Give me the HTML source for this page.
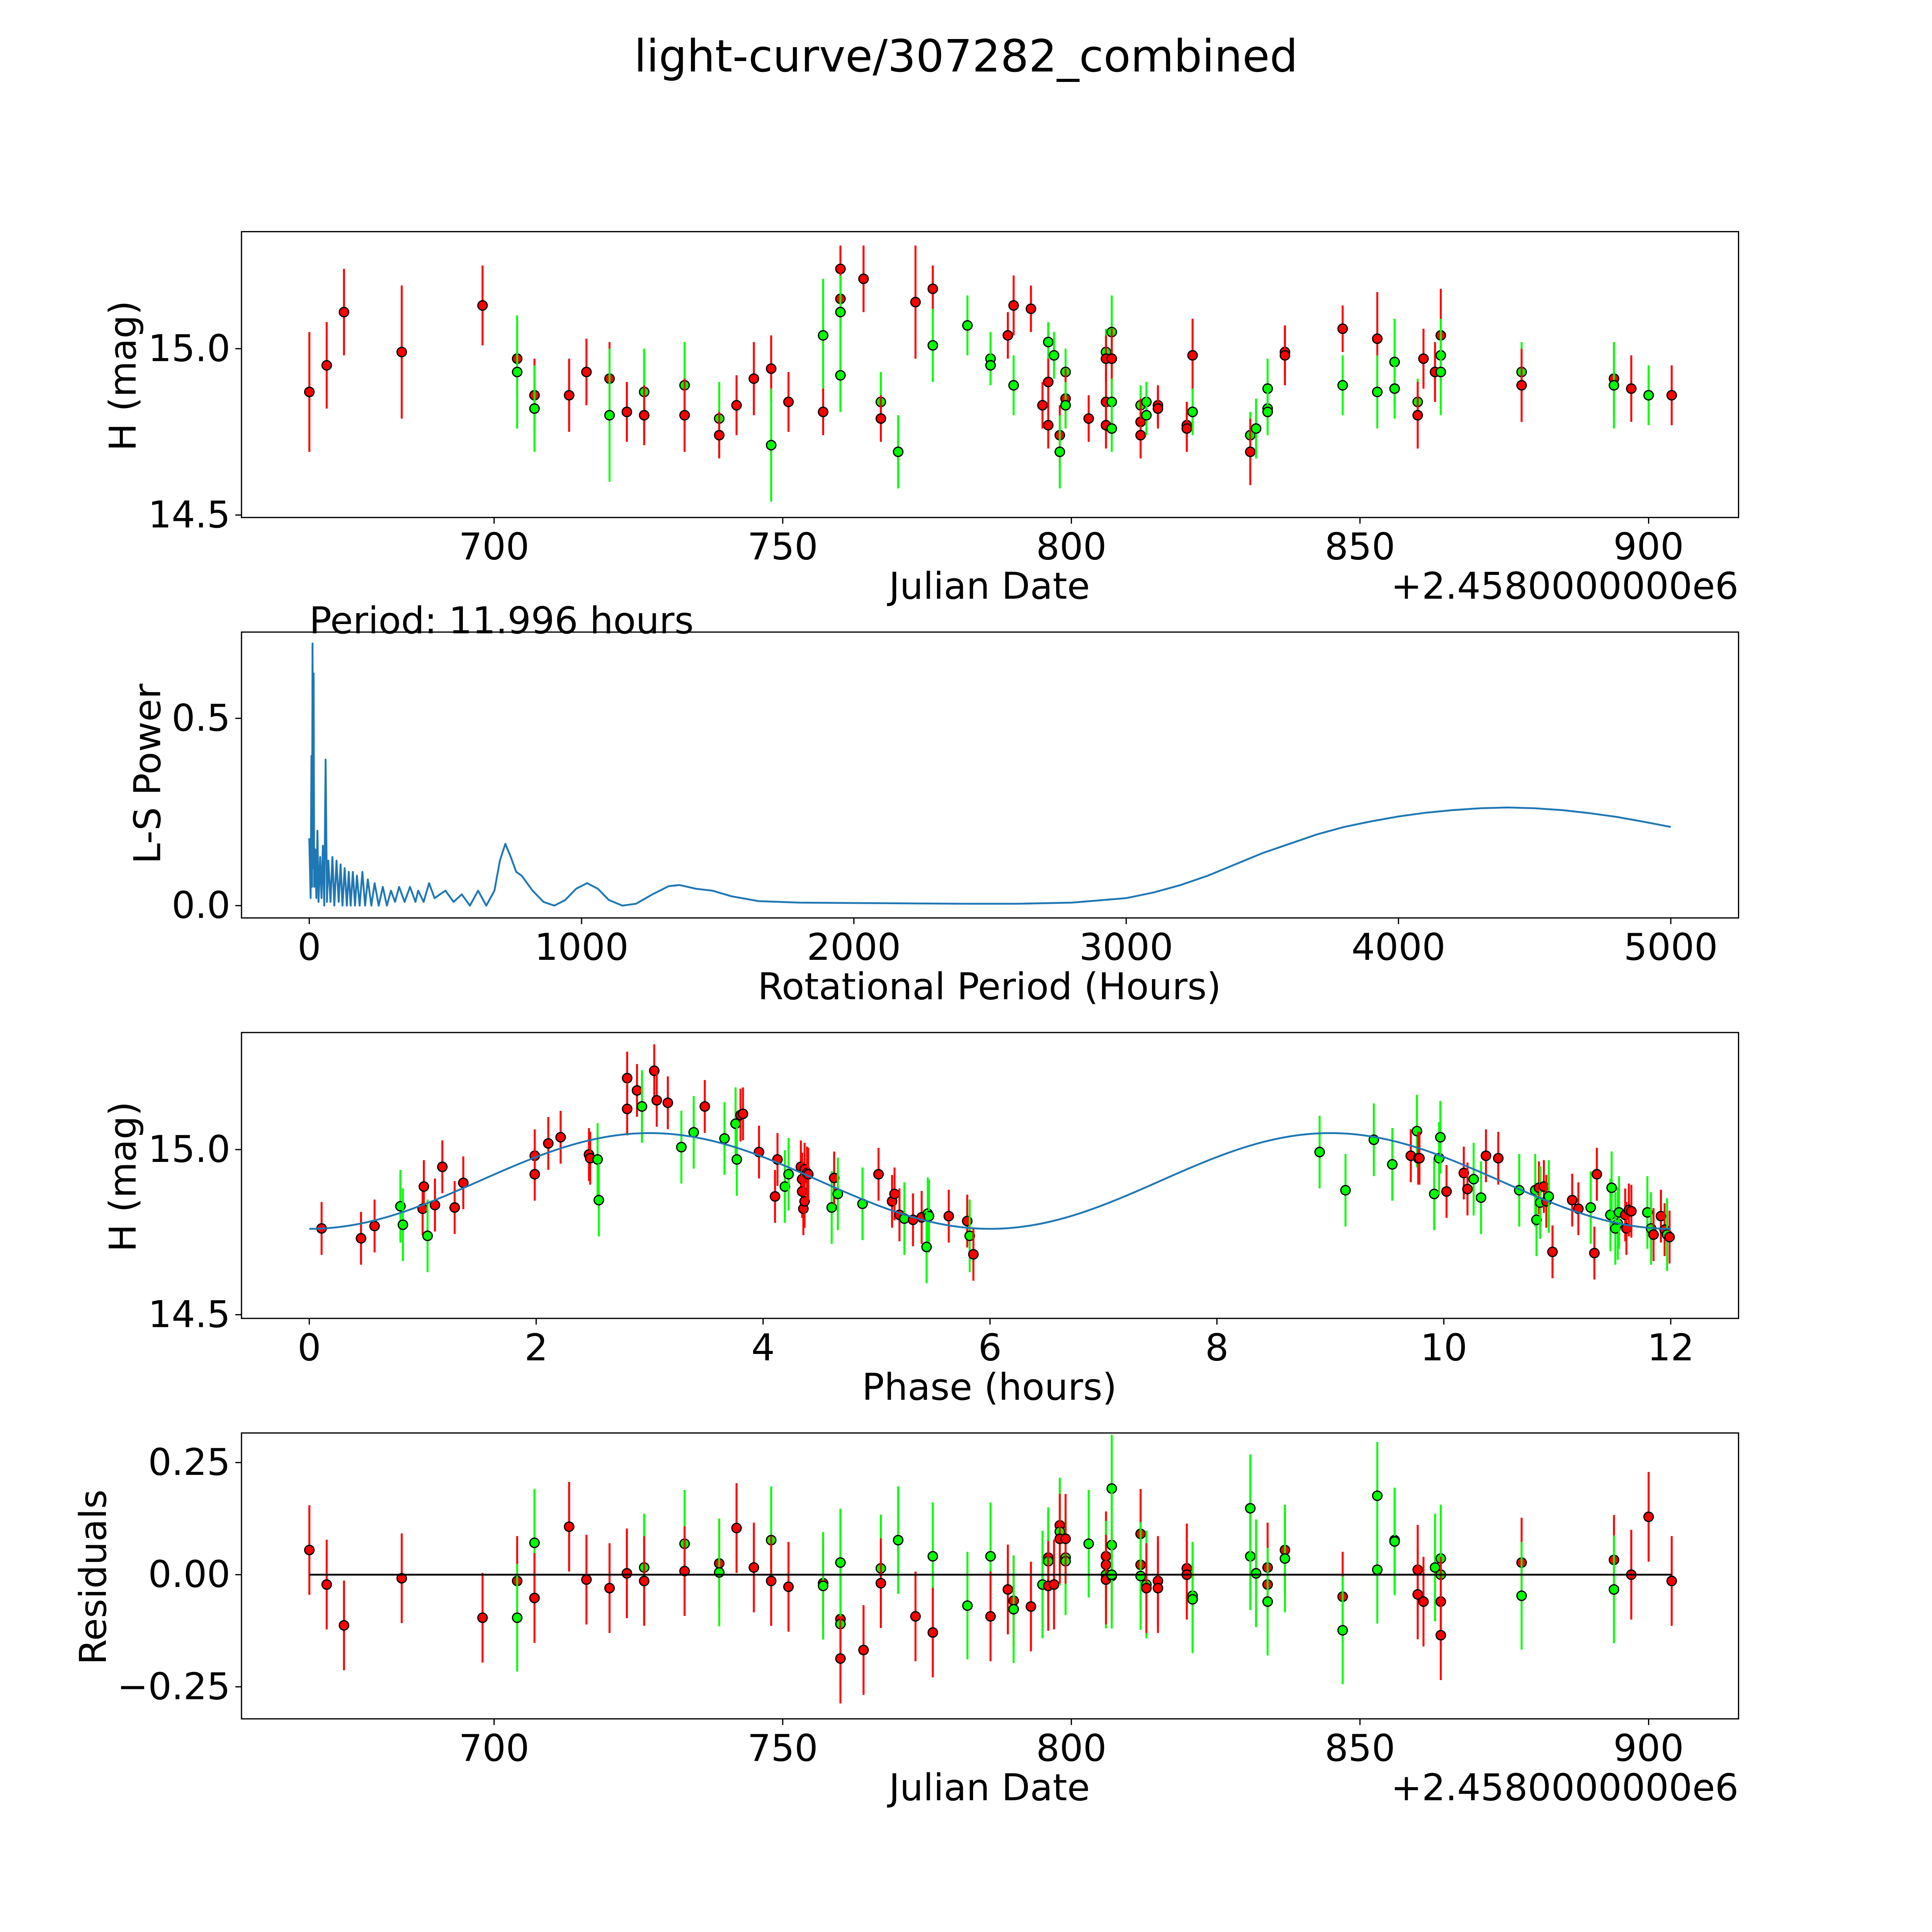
<!DOCTYPE html>
<html><head><meta charset="utf-8"><style>
html,body{margin:0;padding:0;background:#fff;width:100%;height:100%;overflow:hidden}
svg{display:block;width:100vw;height:100vh}
text{font-family:"DejaVu Sans","Liberation Sans",sans-serif;fill:#000}
</style></head><body>
<svg id="fig" xmlns="http://www.w3.org/2000/svg" viewBox="0 0 1568 1568" preserveAspectRatio="none"></svg>
<script>
// ---- Panel 1: light curve data ----
const lcDates=[668,671,674,684,698,704,704,707,707,713,716,720,720,723,726,726,733,733,739,739,742,745,748,748,751,757,757,760,760,760,760,764,767,767,770,773,776,776,782,786,786,789,790,790,793,795,796,796,796,797,798,798,799,799,799,803,806,806,806,806,807,807,807,807,812,812,812,813,813,815,815,820,820,821,821,831,831,832,834,834,834,837,837,847,847,853,853,856,856,860,860,861,863,864,864,864,878,878,894,894,897,900,904];
const lcMags=[14.87,14.95,15.11,14.99,15.13,14.97,14.93,14.86,14.82,14.86,14.93,14.91,14.80,14.81,14.87,14.80,14.89,14.80,14.79,14.74,14.83,14.91,14.94,14.71,14.84,15.04,14.81,15.24,15.15,15.11,14.92,15.21,14.84,14.79,14.69,15.14,15.18,15.01,15.07,14.97,14.95,15.04,15.13,14.89,15.12,14.83,15.02,14.90,14.77,14.98,14.74,14.69,14.93,14.85,14.83,14.79,14.99,14.97,14.84,14.77,15.05,14.97,14.84,14.76,14.83,14.78,14.74,14.84,14.80,14.83,14.82,14.77,14.76,14.98,14.81,14.74,14.69,14.76,14.88,14.82,14.81,14.99,14.98,15.06,14.89,15.03,14.87,14.96,14.88,14.84,14.80,14.97,14.93,15.04,14.98,14.93,14.93,14.89,14.91,14.89,14.88,14.86,14.86];
const lcBands="rrrrrrgrgrrrgrgrgrgrrrrgrgrrrggrgrgrrggggrrgrrgrrgrggrgrgrrrgrgggrrggrrrrrggrggggrrrgrggggrrrrgggrrgrgrrrr";
const lcErrs=[0.18,0.13,0.13,0.2,0.12,0.11,0.17,0.11,0.13,0.11,0.1,0.11,0.2,0.09,0.13,0.09,0.13,0.11,0.11,0.07,0.09,0.11,0.1,0.17,0.09,0.17,0.07,0.07,0.09,0.11,0.11,0.1,0.09,0.07,0.11,0.17,0.07,0.11,0.09,0.08,0.06,0.07,0.09,0.09,0.07,0.07,0.06,0.07,0.07,0.07,0.09,0.11,0.07,0.09,0.07,0.07,0.07,0.07,0.09,0.07,0.11,0.09,0.07,0.07,0.06,0.07,0.07,0.06,0.06,0.06,0.06,0.07,0.07,0.11,0.07,0.07,0.1,0.09,0.09,0.07,0.07,0.07,0.09,0.07,0.09,0.14,0.11,0.13,0.09,0.07,0.1,0.09,0.09,0.14,0.11,0.13,0.09,0.11,0.11,0.13,0.1,0.09,0.09];
// ---- Panel 2: periodogram ----
const lsPeriods=[0,5,8,10,12,14,16,18,22,26,30,34,40,45,50,55,60,65,70,78,85,92,100,108,115,122,130,138,145,152,160,168,175,185,195,205,215,228,240,255,270,285,300,315,330,350,370,390,400,420,440,460,500,530,560,590,620,650,680,700,720,740,760,780,820,860,900,940,980,1020,1060,1100,1150,1200,1260,1320,1360,1420,1480,1550,1650,1800,2000,2400,2600,2800,3000,3100,3200,3300,3400,3500,3600,3700,3800,3900,4000,4100,4200,4300,4400,4500,4600,4700,4800,4900,5000];
const lsPower=[0.18,0.02,0.4,0.05,0.70,0.1,0.62,0.05,0.15,0.02,0.2,0.01,0.13,0.02,0.16,0.0,0.39,0.01,0.12,0.01,0.13,0.0,0.12,0.01,0.11,0.0,0.10,0.0,0.09,0.0,0.09,0.0,0.08,0.0,0.09,0.0,0.07,0.0,0.06,0.0,0.05,0.0,0.04,0.01,0.05,0.01,0.05,0.01,0.04,0.01,0.06,0.02,0.04,0.01,0.03,0.0,0.04,0.0,0.04,0.12,0.165,0.13,0.09,0.08,0.04,0.01,0.0,0.015,0.045,0.06,0.045,0.015,0.0,0.005,0.03,0.052,0.055,0.045,0.04,0.025,0.012,0.008,0.007,0.005,0.005,0.008,0.02,0.035,0.055,0.08,0.11,0.14,0.165,0.19,0.21,0.225,0.238,0.248,0.255,0.26,0.262,0.26,0.255,0.247,0.237,0.224,0.21];
// ---- Panel 3: phased data ----
const phX=[261,293,304,325,327,343,344,347,353,359,369,376,434,434,445,455,478,479,485,486,509,509,517,521,531,533,542,553,563,572,588,597,598,601,603,616,631,629,637,640,650,651,651,652,653,653,655,656,675,677,680,700,713,724,726,730,734,741,748,753,754,752,770,785,787,790,1071,1092,1115,1130,1145,1150,1151,1152,1164,1168,1169,1174,1188,1191,1196,1202,1206,1216,1233,1246,1247,1249,1250,1253,1255,1257,1260,1276,1281,1291,1294,1296,1307,1313,1308,1311,1314,1319,1320,1322,1324,1337,1340,1342,1348,1351,1353,1355];
const phY=[997,1005,995,979,994,981,963,1003,978,947,980,960,938,953,928,923,937,940,941,974,875,900,885,898,869,893,895,931,919,898,924,912,941,905,904,935,941,971,963,953,947,957,967,981,975,949,952,953,980,956,969,977,953,975,969,986,989,990,988,985,987,1012,987,991,1003,1018,935,966,925,945,938,918,940,940,969,940,923,967,952,965,957,972,938,940,966,966,990,964,976,963,975,971,1016,974,981,980,1017,953,986,993,964,997,984,986,997,982,983,984,997,1002,987,998,1002,1004];
const phBands="rrrggrrgrrrrrrrrrrggrrrgrrrggrgggrrrrrggrrrrrrrrgrggrrrrgrrgggrrgrggggrgrrgggrrrggrrgggrgrrgrrrgrrgggggrrrrggrrrg";
const phasePhases=phX.map(x=>(x-251)/92.08);
const phaseMags=phY.map(y=>15+(933-y)/268);
const fitMean=14.905, fitAmp=0.145, fitHalfPeriod=6;
// ---- Panel 4: residuals ----
const resDates=[668,671,674,684,698,704,704,707,707,713,716,720,723,726,726,733,733,739,739,742,745,748,748,751,757,757,760,760,760,760,764,767,767,770,773,776,776,782,786,786,789,790,790,793,795,796,796,796,797,798,798,798,799,799,799,803,806,806,806,806,807,807,807,807,812,812,812,813,813,815,815,820,820,821,821,831,831,832,834,834,834,837,837,847,847,853,853,856,856,860,860,861,863,864,864,864,864,878,878,894,894,897,900,904];
const resVals=[0.055,-0.022,-0.113,-0.008,-0.096,-0.014,-0.096,0.071,-0.052,0.107,-0.011,-0.030,0.003,0.016,-0.014,0.069,0.008,0.025,0.005,0.104,0.016,0.077,-0.014,-0.027,-0.019,-0.025,-0.099,-0.110,-0.187,0.027,-0.168,0.014,-0.019,0.077,-0.093,0.041,-0.129,-0.069,0.041,-0.093,-0.033,-0.058,-0.077,-0.071,-0.022,0.038,0.030,-0.025,-0.022,0.110,0.096,0.080,0.038,0.030,0.080,0.069,0.041,0.022,0.000,-0.011,0.192,0.066,-0.003,0.000,0.091,0.022,-0.003,-0.022,-0.030,-0.014,-0.030,0.014,0.000,-0.047,-0.055,0.041,0.148,0.003,0.016,-0.022,-0.060,0.055,0.036,-0.049,-0.124,0.176,0.011,0.077,0.074,0.011,-0.044,-0.060,0.016,0.036,0.000,-0.060,-0.135,0.027,-0.047,0.033,-0.033,0.000,0.129,-0.014];
const resBands="rrrrrrggrrrrrgrgrrgrrgrrrgrgrgrgrgrgrggrrrgrgrgrrrgrggrgrrgrggrgrrggrrrrrgggggrrgrgrgggrgrrrgggrrrgrgrrr";
const resErrs=resVals.map((v,i)=>resBands[i]==='g'?0.12:0.1);

const NS="http://www.w3.org/2000/svg";
const svg=document.getElementById('fig');
function mk(tag,attrs,parent,name,inter){const e=document.createElementNS(NS,tag);for(const k in attrs)e.setAttribute(k,attrs[k]);


(parent||svg).appendChild(e);return e;}
function txt(x,y,s,size,anchor,name,rot){const t=mk('text',{x:x,y:y,'font-size':size,'text-anchor':anchor||'middle'},svg,name,false);if(rot)t.setAttribute('transform',`rotate(-90 ${x} ${y})`);t.textContent=s;return t;}
const L=196,R=1411;
const TICK=30, LAB=30;
function frame(top,bottom,name){mk('rect',{x:L,y:top,width:R-L,height:bottom-top,fill:'none',stroke:'#000','stroke-width':1},svg,name,false);}
function xtick(x,bottom,label){mk('line',{x1:x,x2:x,y1:bottom,y2:bottom+5,stroke:'#000','stroke-width':1},svg,'x-tick',false);txt(x,bottom+34,label,TICK,'middle','x-tick-label');}
function ytick(y,label){mk('line',{x1:L-5,x2:L,y1:y,y2:y,stroke:'#000','stroke-width':1},svg,'y-tick',false);txt(L-9,y+10,label,TICK,'end','y-tick-label');}
function point(g,x,y,errPx,band,name){const c=band==='g'?'#00ff00':'#ff0000';
mk('line',{x1:x,x2:x,y1:y-errPx,y2:y+errPx,stroke:c,'stroke-width':1.6},g,'error-bar',false);
mk('circle',{cx:x,cy:y,r:3.8,fill:c,stroke:'#000','stroke-width':1},g,name,false);}

txt(784,58,'light-curve/307282_combined',36,'middle','figure-title');

// Panel 1
const p1T=188,p1B=420;
const x1=d=>401+(d-700)*4.685, y1=m=>283-(m-15)*270;
frame(p1T,p1B,'light-curve-axes');
[700,750,800,850,900].forEach(v=>xtick(x1(v),p1B,String(v)));
ytick(y1(15),'15.0');ytick(y1(14.5),'14.5');
txt(803,486,'Julian Date',LAB,'middle','x-axis-title');
txt(1411,486,'+2.4580000000e6',LAB,'end','x-offset-label');
txt(110,305,'H (mag)',LAB,'middle','y-axis-title',true);
const g1=mk('g',{},svg,'light-curve-points',false);
lcDates.forEach((d,i)=>point(g1,x1(d),y1(lcMags[i]),lcErrs[i]*270,lcBands[i],'observation-point'));

// Panel 2
const p2T=513,p2B=745;
const x2=p=>251+p*0.221, y2=v=>735-v*304;
frame(p2T,p2B,'periodogram-axes');
[0,1000,2000,3000,4000,5000].forEach(v=>xtick(x2(v),p2B,String(v)));
ytick(y2(0),'0.0');ytick(y2(0.5),'0.5');
txt(803,811,'Rotational Period (Hours)',LAB,'middle','x-axis-title');
txt(130,628,'L-S Power',LAB,'middle','y-axis-title',true);
txt(251,514,'Period: 11.996 hours',LAB,'start','period-annotation');
mk('polyline',{points:lsPeriods.map((p,i)=>x2(p)+','+y2(lsPower[i])).join(' '),fill:'none',stroke:'#1f77b4','stroke-width':1.5,'stroke-linejoin':'round'},svg,'periodogram-line',false);

// Panel 3
const p3T=838,p3B=1070;
const x3=p=>251+p*92.08, y3=m=>933-(m-15)*268;
frame(p3T,p3B,'phase-axes');
[0,2,4,6,8,10,12].forEach(v=>xtick(x3(v),p3B,String(v)));
ytick(y3(15),'15.0');ytick(y3(14.5),'14.5');
txt(803,1136,'Phase (hours)',LAB,'middle','x-axis-title');
txt(110,955,'H (mag)',LAB,'middle','y-axis-title',true);
const g3=mk('g',{},svg,'phase-points',false);
phasePhases.forEach((p,i)=>point(g3,x3(p),y3(phaseMags[i]),(phBands[i]==='g'?0.11:0.08)*268,phBands[i],'phased-point'));
const fitPts=[];for(let k=0;k<=240;k++){const p=12*k/240;fitPts.push(x3(p)+','+y3(fitMean-fitAmp*Math.cos(2*Math.PI*p/fitHalfPeriod)));}
mk('polyline',{points:fitPts.join(' '),fill:'none',stroke:'#1f77b4','stroke-width':1.5},svg,'fit-curve',false);

// Panel 4
const p4T=1163,p4B=1395;
const y4=v=>1278-v*364;
frame(p4T,p4B,'residuals-axes');
[700,750,800,850,900].forEach(v=>xtick(x1(v),p4B,String(v)));
ytick(y4(0.25),'0.25');ytick(y4(0),'0.00');ytick(y4(-0.25),'\u22120.25');
txt(803,1461,'Julian Date',LAB,'middle','x-axis-title');
txt(1411,1461,'+2.4580000000e6',LAB,'end','x-offset-label');
txt(86,1280,'Residuals',LAB,'middle','y-axis-title',true);
const g4=mk('g',{},svg,'residual-points',false);
resDates.forEach((d,i)=>point(g4,x1(d),y4(resVals[i]),resErrs[i]*364,resBands[i],'residual-point'));
mk('line',{x1:x1(668),x2:x1(904),y1:y4(0),y2:y4(0),stroke:'#000','stroke-width':1.5},svg,'zero-line',false);
</script>
</body></html>
